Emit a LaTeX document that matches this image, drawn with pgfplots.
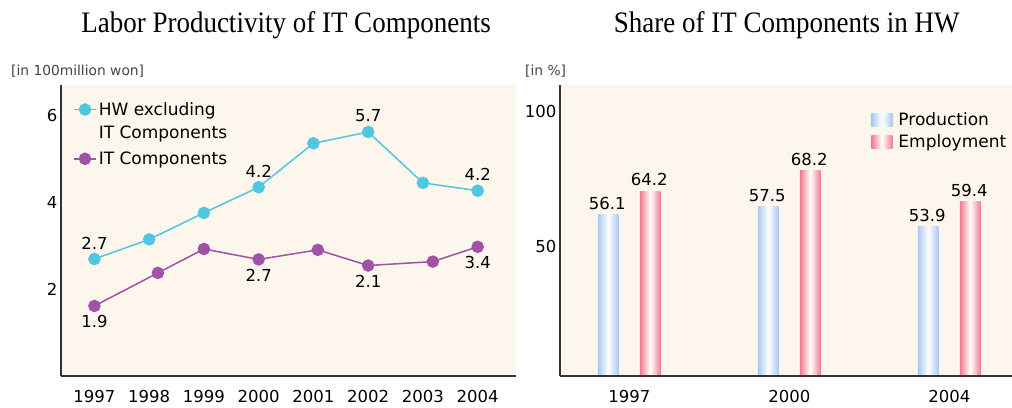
\documentclass[border=0pt]{standalone}
\usepackage{fontspec}
\usepackage{graphicx}
\usepackage{pgfplots}
\usepackage{pgfplotstable}
\pgfplotsset{compat=1.18}
\setmainfont{Liberation Serif}
\newfontfamily\dv{DejaVu Sans}
\definecolor{bgc}{HTML}{FDF6EC}
\definecolor{cy}{HTML}{50C6E0}
\definecolor{pu}{HTML}{A052A8}
\definecolor{axc}{HTML}{333333}
\definecolor{bl}{HTML}{A9C9EE}
\definecolor{pk}{HTML}{F07C90}
\definecolor{unitc}{HTML}{444444}

\pgfplotstableread{
x y lab
1997 2.69 2.7
1998 3.14 {}
1999 3.75 {}
2000 4.34 4.2
2001 5.35 {}
2002 5.61 5.7
2003 4.44 {}
2004 4.26 4.2
}\hwdata

\pgfplotstableread{
x y lab
1997 1.61 1.9
1998.16 2.37 {}
1999 2.92 {}
2000 2.68 2.7
2001.08 2.90 {}
2002 2.54 2.1
2003.18 2.63 {}
2004 2.97 3.4
}\itdata

\pgfplotstableread{
x y lab
0 61.7 56.1
1 64.7 57.5
2 57.3 53.9
}\proddata

\pgfplotstableread{
x y lab
0 70.3 64.2
1 78.0 68.2
2 66.5 59.4
}\empdata

\pgfplotsset{
  mystyle/.style={
    scale only axis,
    axis x line=bottom, axis y line=left,
    axis line style={-, draw=axc, line width=1.5pt},
    axis background/.style={fill=bgc},
    major tick length=0pt,
    tick label style={font=\dv\fontsize{16.5}{19}\selectfont},
    /pgf/number format/assume math mode=true,
    /pgf/number format/1000 sep={},
    axis on top,
  },
  lineleg/.style={legend image code/.code={\draw[##1, mark repeat=2, mark phase=2] plot coordinates {(0pt,#1) (11pt,#1) (22pt,#1)};}},
  barleg/.style={legend image code/.code={\path[##1] (0pt,-6.5pt) rectangle (21pt,6.5pt);}},
  prodbar/.style={ybar, bar width=20.7pt, bar shift=-21pt, draw=none,
    left color=bl, right color=bl, middle color=white, barleg,
    nodes near coords, point meta=explicit symbolic,
    every node near coord/.append style={anchor=south, xshift=-22pt, yshift=3pt, inner sep=2pt, text=black, font=\dv\fontsize{16.5}{19}\selectfont}},
  empbar/.style={ybar, bar width=20.7pt, bar shift=21pt, draw=none,
    left color=pk, right color=pk, middle color=white, barleg,
    nodes near coords, point meta=explicit symbolic,
    every node near coord/.append style={anchor=south, xshift=20pt, yshift=3pt, inner sep=2pt, text=black, font=\dv\fontsize{16.5}{19}\selectfont}},
}

\begin{document}
\begin{tikzpicture}
\useasboundingbox (0pt,0pt) rectangle (1012pt,-407pt);
\node[anchor=base, inner sep=0pt] at (286pt,-32.3pt) {\scalebox{1}[1.1]{\fontsize{27}{30}\selectfont Labor Productivity of IT Components}};
\node[anchor=base, inner sep=0pt] at (786.7pt,-32.3pt) {\scalebox{1}[1.1]{\fontsize{27}{30}\selectfont Share of IT Components in HW}};
\node[anchor=base west, inner sep=0pt, text=unitc] at (11pt,-75.7pt) {\dv\fontsize{13.8}{15}\selectfont [in 100million won]};
\node[anchor=base west, inner sep=0pt, text=unitc] at (525pt,-75.7pt) {\dv\fontsize{13.8}{15}\selectfont [in \%]};

\begin{axis}[mystyle,
  at={(61pt,-376pt)}, anchor=south west,
  width=455pt, height=291pt,
  xmin=1996.39, xmax=2004.70, ymin=0, ymax=6.69,
  xtick={1997,1998,...,2004}, ytick={2,4,6},
  xticklabel style={yshift=-11pt},
  legend style={at={(0.02,0.955)}, anchor=north west, draw=none, fill=none,
    font=\dv\fontsize{17}{23}\selectfont, row sep=8pt,
    nodes={align=left, inner sep=2pt}},
  legend cell align=left,
]
\addplot[cy, line width=1.5pt, mark=*, mark size=5.5pt, lineleg=11.5pt,
  nodes near coords, point meta=explicit symbolic,
  every node near coord/.style={anchor=south, yshift=6pt, inner sep=3pt, text=black, font=\dv\fontsize{16.5}{19}\selectfont}]
  table[x=x, y=y, meta=lab] {\hwdata};
\addlegendentry{HW excluding\\IT Components}
\addplot[pu, line width=1.5pt, mark=*, mark size=5.5pt, lineleg=0pt,
  nodes near coords, point meta=explicit symbolic,
  every node near coord/.style={anchor=north, yshift=-6pt, inner sep=3pt, text=black, font=\dv\fontsize{16.5}{19}\selectfont}]
  table[x=x, y=y, meta=lab] {\itdata};
\addlegendentry{IT Components}
\end{axis}

\begin{axis}[mystyle,
  at={(560pt,-376pt)}, anchor=south west,
  width=452pt, height=291pt,
  xmin=-0.433, xmax=2.392, ymin=1.9, ymax=109.7,
  xtick={0,1,2}, xticklabels={1997,2000,2004}, ytick={50,100},
  xticklabel style={yshift=-11pt},
  legend style={at={(0.682,0.92)}, anchor=north west, draw=none, fill=none,
    font=\dv\fontsize{17}{20}\selectfont, row sep=4pt, column sep=4pt,
    nodes={inner sep=2pt}},
  legend cell align=left,
]
\addplot[prodbar, restrict x to domain=-0.1:0.1] table[x=x, y=y, meta=lab] {\proddata};
\addlegendentry{Production}
\addplot[empbar, restrict x to domain=-0.1:0.1] table[x=x, y=y, meta=lab] {\empdata};
\addlegendentry{Employment}
\addplot[prodbar, forget plot, restrict x to domain=0.9:1.1] table[x=x, y=y, meta=lab] {\proddata};
\addplot[prodbar, forget plot, restrict x to domain=1.9:2.1] table[x=x, y=y, meta=lab] {\proddata};
\addplot[empbar, forget plot, restrict x to domain=0.9:1.1] table[x=x, y=y, meta=lab] {\empdata};
\addplot[empbar, forget plot, restrict x to domain=1.9:2.1] table[x=x, y=y, meta=lab] {\empdata};
\end{axis}
\end{tikzpicture}
\end{document}
